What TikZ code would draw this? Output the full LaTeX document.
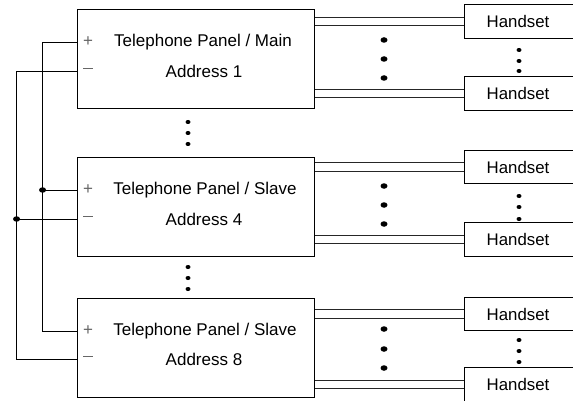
\documentclass[tikz,border=0pt]{standalone}
\usepackage{fontspec}
\setmainfont{Liberation Sans}
\usetikzlibrary{calc,shapes.geometric,backgrounds}
\begin{document}
\begin{tikzpicture}[x=1pt,y=-1pt,
  panel/.style={draw=black,line width=0.9pt,minimum width=237pt,minimum height=99pt,inner sep=0pt},
  hset/.style={minimum width=106pt,minimum height=33pt,inner sep=0pt,font=\fontsize{16.8}{19}\selectfont},
  ptext/.style={font=\fontsize{17}{19}\selectfont,inner sep=0pt},
  sign/.style={font=\fontsize{17}{18}\selectfont,text=black!60,inner sep=0pt},
  pair/.style={draw=black!85,line width=0.9pt,double=white,double distance=7.6pt},
  wire/.style={draw=black,line width=0.9pt},
  hedge/.style={draw=black,line width=0.9pt},
  bigdot/.style={ellipse,fill=black,inner sep=0pt,minimum width=7pt,minimum height=5.5pt},
  smalldot/.style={ellipse,fill=black,inner sep=0pt,minimum width=5pt,minimum height=4pt}]
\path[use as bounding box] (0,0) rectangle (573,401);
\clip (0,0) rectangle (573,401);

% panels
\node[panel] (p1) at (195.5,58.5) {};
\node[panel] (p2) at (195.5,206.5) {};
\node[panel] (p3) at (195.5,347.5) {};

% panel texts
\node[ptext] (t1a) at (203,42) {Telephone Panel / Main};
\node[ptext] (t1b) at (204,71) {Address 1};
\node[ptext] (t2a) at (205,190) {Telephone Panel / Slave};
\node[ptext] (t2b) at (204,219) {Address 4};
\node[ptext] (t3a) at (205,331) {Telephone Panel / Slave};
\node[ptext] (t3b) at (204,359) {Address 8};

% signs
\node[sign] (pl1) at (88,42) {+};
\node[sign] (mi1) at (88,71) {\rule[0.3em]{9.5pt}{0.8pt}};
\node[sign] (pl2) at (88,190) {+};
\node[sign] (mi2) at (88,219) {\rule[0.3em]{9.5pt}{0.8pt}};
\node[sign] (pl3) at (88,331) {+};
\node[sign] (mi3) at (88,359) {\rule[0.3em]{9.5pt}{0.8pt}};

% handsets
\node[hset] (h1) at (518,21.5) {Handset};
\node[hset] (h2) at (518,93.5) {Handset};
\node[hset] (h3) at (518,167) {Handset};
\node[hset] (h4) at (518,239.5) {Handset};
\node[hset] (h5) at (518,314) {Handset};
\node[hset] (h6) at (518,384.5) {Handset};
\foreach \h in {h1,h2,h3,h4,h5,h6}{
  \draw[hedge] ($(\h.north east)+(10,0)$) -- (\h.north west) -- (\h.south west) -- ($(\h.south east)+(10,0)$);
}

% double lines (behind the box borders)
\begin{scope}[on background layer]
\foreach \p/\h in {p1/h1,p1/h2,p2/h3,p2/h4,p3/h5,p3/h6}{
  \draw[pair] (\p.east |- \h.west) -- (\h.west);
}
\end{scope}

% dots between lines
\foreach \y in {40,59,78,186,205,224,329,349,368}{
  \node[bigdot] at (384,\y) {};
}
% dots between handsets
\foreach \y in {50,61,71,196,207,219,340,351,362}{
  \node[smalldot] at (519,\y) {};
}
% dots between panels
\foreach \y in {122,133,144,267,278,289}{
  \node[smalldot] at (188,\y) {};
}

% bus wiring
\draw[wire] (p1.west |- pl1) -- ++(-34,0) coordinate (bp1) |- (p3.west |- pl3);
\draw[wire] (p1.west |- mi1) -- ++(-60,0) coordinate (bm1) |- (p3.west |- mi3);
\draw[wire] (p2.west |- pl2) -- ++(-34,0) coordinate (bp2);
\draw[wire] (p2.west |- mi2) -- ++(-60,0) coordinate (bm2);
\node[bigdot] (j1) at (bp2) {};
\node[bigdot] (j2) at (bm2) {};
\end{tikzpicture}
\end{document}
